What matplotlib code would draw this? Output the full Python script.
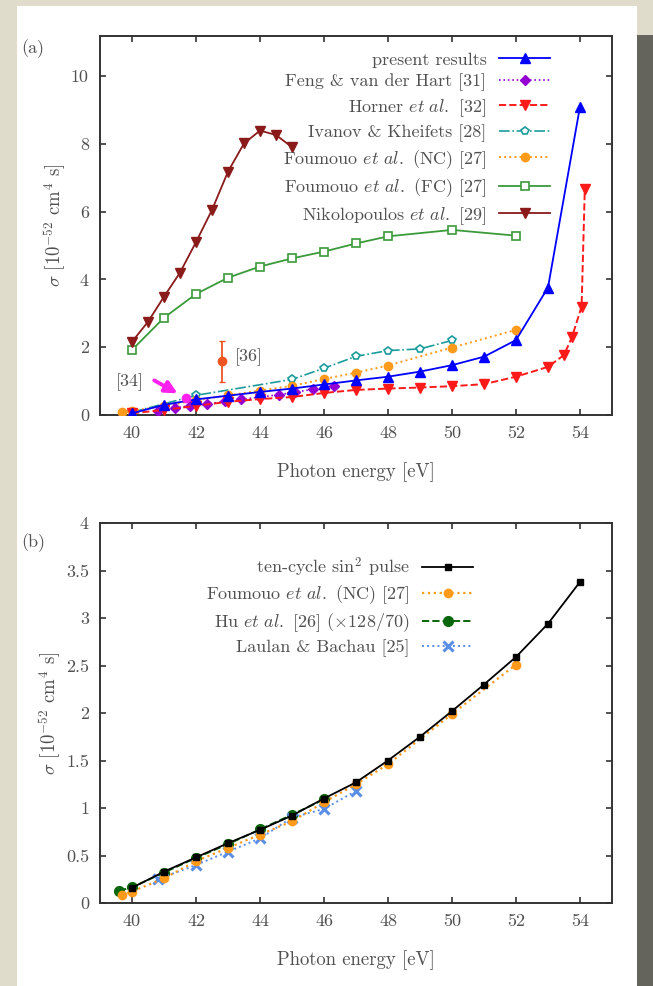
import matplotlib
matplotlib.use('Agg')
import matplotlib.pyplot as plt
from matplotlib.patches import Rectangle
from matplotlib.ticker import FixedLocator, FixedFormatter

plt.rcParams['font.family'] = ['cmr10', 'DejaVu Serif']
plt.rcParams['mathtext.fontset'] = 'cm'
plt.rcParams['axes.unicode_minus'] = False
plt.rcParams['axes.formatter.use_mathtext'] = True

# ---- panel (a) data ----
present_E = [40, 41, 42, 43, 44, 45, 46, 47, 48, 49, 50, 51, 52, 53, 54]
present_s = [0.05, 0.3, 0.46, 0.57, 0.68, 0.78, 0.9, 1.02, 1.13, 1.28, 1.47, 1.72, 2.21, 3.76, 9.1]

feng_E = [40.8, 41.35, 41.8, 42.35, 42.9, 43.4, 44.0, 44.6, 45.1, 45.65, 46.3]
feng_s = [0.12, 0.2, 0.28, 0.32, 0.4, 0.46, 0.53, 0.6, 0.67, 0.76, 0.86]

horner_E = [40, 41, 42, 43, 44, 45, 46, 47, 48, 49, 50, 51, 52, 53, 53.5, 53.75, 54.05, 54.15]
horner_s = [0.05, 0.15, 0.27, 0.39, 0.47, 0.53, 0.65, 0.74, 0.78, 0.81, 0.85, 0.91, 1.13, 1.42, 1.77, 2.3, 3.2, 6.67]

ivanov_E = [40, 42, 45, 46, 47, 48, 49, 50]
ivanov_s = [0.08, 0.58, 1.05, 1.38, 1.73, 1.9, 1.95, 2.2]

nc_E = [39.68, 40, 41, 42, 43, 44, 45, 46, 47, 48, 50, 52]
nc_s = [0.08, 0.12, 0.26, 0.44, 0.58, 0.72, 0.86, 1.06, 1.25, 1.46, 1.99, 2.51]

fc_E = [40, 41, 42, 43, 44, 45, 46, 47, 48, 50, 52]
fc_s = [1.92, 2.87, 3.57, 4.05, 4.38, 4.62, 4.82, 5.06, 5.27, 5.46, 5.29]

niko_E = [40, 40.5, 41, 41.5, 42, 42.5, 43, 43.5, 44, 44.5, 45]
niko_s = [2.16, 2.75, 3.49, 4.2, 5.1, 6.05, 7.18, 8.01, 8.39, 8.26, 7.9]

ref34_E = [41.7]
ref34_s = [0.5]
ref36_E = [42.8]
ref36_s = [1.6]
ref36_err = [[0.62], [0.59]]

# ---- panel (b) data ----
pulse_E = [40, 41, 42, 43, 44, 45, 46, 47, 48, 49, 50, 51, 52, 53, 54]
pulse_s = [0.16, 0.33, 0.48, 0.63, 0.77, 0.92, 1.10, 1.27, 1.50, 1.75, 2.02, 2.30, 2.59, 2.94, 3.38]

hu_E = [39.6, 40, 41, 42, 43, 44, 45, 46]
hu_s = [0.13, 0.165, 0.32, 0.475, 0.62, 0.775, 0.93, 1.09]

laulan_E = [40.8, 42, 43, 44, 45, 46, 47]
laulan_s = [0.25, 0.40, 0.54, 0.68, 0.90, 0.99, 1.18]

xticks = [40, 42, 44, 46, 48, 50, 52, 54]
xtick_labels = ['40', '42', '44', '46', '48', '50', '52', '54']
yticks_a = [0, 2, 4, 6, 8, 10]
ytick_labels_a = ['0', '2', '4', '6', '8', '10']
yticks_b = [0, 0.5, 1, 1.5, 2, 2.5, 3, 3.5, 4]
ytick_labels_b = ['0', '0.5', '1', '1.5', '2', '2.5', '3', '3.5', '4']

W, H = 653, 986
txt = '#505050'
fs = 13


def fx(px):
    return px / W


def fy(py):
    return 1 - py / H


fig = plt.figure(figsize=(W / 100, H / 100), dpi=100, facecolor='#dfdccb')
fig.patches.append(Rectangle((fx(17), 0), fx(637) - fx(17), fy(6), transform=fig.transFigure,
                             facecolor='white', edgecolor='none', zorder=-10))
fig.patches.append(Rectangle((fx(637), 0), 1 - fx(637), fy(35), transform=fig.transFigure,
                             facecolor='#64645d', edgecolor='none', zorder=-10))


def style_axes(ax, yt, ytl, ymax):
    ax.set_xlim(39, 55)
    ax.set_ylim(0, ymax)
    ax.xaxis.set_major_locator(FixedLocator(xticks))
    ax.xaxis.set_major_formatter(FixedFormatter(xtick_labels))
    ax.yaxis.set_major_locator(FixedLocator(yt))
    ax.yaxis.set_major_formatter(FixedFormatter(ytl))
    ax.tick_params(direction='in', top=True, right=True, length=4, width=1.2,
                   color='#333333', labelcolor=txt, labelsize=13, pad=8)
    for s in ax.spines.values():
        s.set_color('#333333')
        s.set_linewidth(1.4)
    ax.set_xlabel('Photon energy [eV]', color=txt, fontsize=13.5, labelpad=15)
    ax.set_ylabel(r'$\sigma$ [10$^{-52}$ cm$^4$ s]', color=txt, fontsize=13.5, labelpad=2)


# ---- panel (a) ----
ax1 = fig.add_axes([fx(100), fy(415), fx(612) - fx(100), fy(36) - fy(415)])
style_axes(ax1, yticks_a, ytick_labels_a, 11.18)

ax1.plot(present_E, present_s, '-', color='#0000ff', lw=1.3, marker='^', ms=6.5,
         label='present results', zorder=6)
ax1.plot(feng_E, feng_s, ':', color='#9400d3', lw=1.2, marker='D', ms=5,
         label='Feng & van der Hart [31]', zorder=5)
ax1.plot(horner_E, horner_s, '--', color='#ff1a1a', lw=1.4, marker='v', ms=6.5,
         label=r'Horner $\mathit{et\ al.}$ [32]', zorder=5)
ax1.plot(ivanov_E, ivanov_s, '-.', color='#1a9c9c', lw=1.2, marker='p', ms=6,
         mfc='white', mew=1.2, label='Ivanov & Kheifets [28]', zorder=4)
ax1.plot(nc_E, nc_s, ':', color='#ff9a1a', lw=1.4, marker='o', ms=6,
         label=r'Foumouo $\mathit{et\ al.}$ (NC) [27]', zorder=4)
ax1.plot(fc_E, fc_s, '-', color='#3a9a3a', lw=1.3, marker='s', ms=5.5,
         mfc='white', mew=1.2, label=r'Foumouo $\mathit{et\ al.}$ (FC) [27]', zorder=4)
ax1.plot(niko_E, niko_s, '-', color='#8b1a1a', lw=1.3, marker='v', ms=6.5,
         label=r'Nikolopoulos $\mathit{et\ al.}$ [29]', zorder=4)

ax1.plot(ref34_E, ref34_s, 'o', color='#ff22ee', ms=6, zorder=7)
ax1.annotate('', xy=(41.5, 0.6), xytext=(40.62, 1.06),
             arrowprops=dict(arrowstyle='-|>', color='#ff22ee', lw=2.8, mutation_scale=18))
ax1.text(39.94, 0.98, '[34]', color=txt, fontsize=fs, ha='center', va='center')
ax1.errorbar(ref36_E, ref36_s, yerr=ref36_err, fmt='o', color='#ee5522', ms=6,
             elinewidth=1.3, capsize=2.5, zorder=7)
ax1.text(43.65, 1.72, '[36]', color=txt, fontsize=fs, ha='center', va='center')

leg1 = ax1.legend(loc='upper right', bbox_to_anchor=((550 - 100) / 512, (415 - 52) / 379),
                  markerfirst=False, frameon=False, fontsize=fs, handlelength=2.8,
                  handletextpad=0.72, labelspacing=0.32, borderpad=0, borderaxespad=0)
for t in leg1.get_texts():
    t.set_color(txt)

# ---- panel (b) ----
ax2 = fig.add_axes([fx(100), fy(903), fx(612) - fx(100), fy(523) - fy(903)])
style_axes(ax2, yticks_b, ytick_labels_b, 4)

ax2.plot(pulse_E, pulse_s, '-', color='black', lw=1.3, marker='s', ms=5,
         label=r'ten-cycle sin$^2$ pulse', zorder=6)
ax2.plot(nc_E, nc_s, ':', color='#ff9a1a', lw=1.6, marker='o', ms=6,
         label=r'Foumouo $\mathit{et\ al.}$ (NC) [27]', zorder=5)
ax2.plot(hu_E, hu_s, '--', color='#0a660a', lw=1.4, marker='o', ms=7,
         label=r'Hu $\mathit{et\ al.}$ [26] ($\times$128/70)', zorder=4)
ax2.plot(laulan_E, laulan_s, ':', color='#5a8ee6', lw=1.4, marker='x', ms=7, mew=2.2,
         label='Laulan & Bachau [25]', zorder=4)

leg2 = ax2.legend(loc='upper right', bbox_to_anchor=((473 - 100) / 512, (903 - 555) / 380),
                  markerfirst=False, frameon=False, fontsize=fs, handlelength=2.8,
                  handletextpad=0.72, labelspacing=0.28, borderpad=0, borderaxespad=0)
for t in leg2.get_texts():
    t.set_color(txt)

fig.text(fx(33), fy(49), '(a)', color=txt, fontsize=fs, ha='center', va='center')
fig.text(fx(33), fy(543), '(b)', color=txt, fontsize=fs, ha='center', va='center')

fig.savefig('out.png', dpi=100, facecolor=fig.get_facecolor())
